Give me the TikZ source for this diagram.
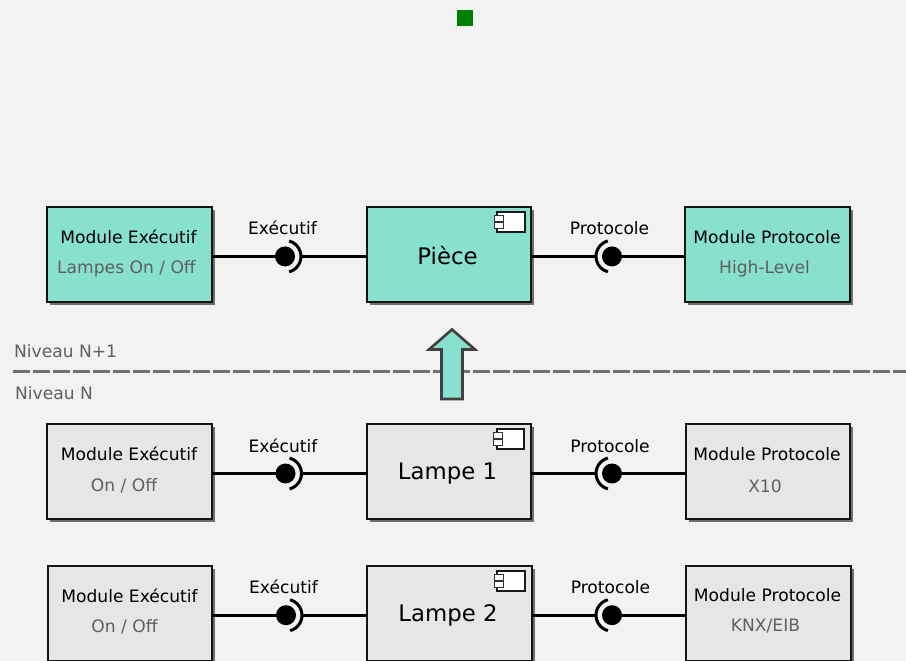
\documentclass[tikz,border=0pt]{standalone}
\usepackage{fontspec}
\setmainfont{DejaVu Sans}
\usetikzlibrary{shadows}
\definecolor{bgc}{HTML}{F2F2F2}
\definecolor{teal}{HTML}{88E0CE}
\definecolor{greyfill}{HTML}{E6E6E6}
\definecolor{subtext}{HTML}{5F5F5F}
\definecolor{dashc}{HTML}{707070}
\definecolor{shadowc}{HTML}{6E6E6E}
\tikzset{
  x=1pt,y=-1pt,
  boxbase/.style={draw=black!92,line width=2pt,minimum width=164.6pt,minimum height=94.6pt,inner sep=0pt,outer sep=0pt,
    drop shadow={shadow xshift=3pt,shadow yshift=-3pt,opacity=1,fill=shadowc}},
  tealbox/.style={boxbase,fill=teal},
  greybox/.style={boxbase,fill=greyfill},
  title/.style={font=\fontsize{17.1}{20}\selectfont,text=black,inner sep=0pt},
  subtitle/.style={font=\fontsize{17.1}{20}\selectfont,text=subtext,inner sep=0pt},
  bigtitle/.style={font=\fontsize{22.8}{26}\selectfont,text=black,inner sep=0pt},
  level/.style={font=\fontsize{17.1}{20}\selectfont,text=subtext,inner sep=0pt,anchor=west},
  link/.style={draw=black,line width=3pt},
  ball/.style={circle,fill=black,draw=none,minimum size=20pt,inner sep=0pt,outer sep=0pt},
  socket/.style={draw=black,line width=3pt},
  iconbody/.style={draw=black!90,fill=white,line width=1.6pt,inner sep=0pt,outer sep=0pt,minimum width=27.5pt,minimum height=19.5pt,
    drop shadow={shadow xshift=1pt,shadow yshift=-1pt,opacity=1,fill=shadowc}},
  icontab/.style={draw=black!80,fill=white,line width=1pt,inner sep=0pt,outer sep=0pt,minimum width=9pt,minimum height=6.5pt},
  uparrow/.style={draw=black!75,line width=2.6pt,fill=teal,line join=miter},
  levelline/.style={draw=dashc,line width=3.2pt,dash pattern=on 17pt off 3pt},
}
% component icon in the top right corner of a box
\newcommand{\CompIcon}[3]{%
  \node[iconbody] (#1body) at (#2+511,#3+15) {};
  \node[icontab] (#1taba) at (#2+498.5,#3+11.5) {};
  \node[icontab] (#1tabb) at (#2+498.5,#3+18.5) {};
}
% ball and socket; socket opens to the left
\newcommand{\LeftConn}[3]{%
  \node[ball] (#1) at (#2,#3) {};
  \coordinate (#1s) at (#2+16,#3);
  \draw[socket] ([shift={(-75:16pt)}]#1.center) arc[start angle=-75,end angle=75,radius=16pt];
}
% ball and socket; socket opens to the right
\newcommand{\RightConn}[3]{%
  \node[ball] (#1) at (#2,#3) {};
  \coordinate (#1s) at (#2-16,#3);
  \draw[socket] ([shift={(105:16pt)}]#1.center) arc[start angle=105,end angle=255,radius=16pt];
}
\begin{document}
\begin{tikzpicture}
\useasboundingbox (0,0) rectangle (906,661);
\fill[bgc] (0,0) rectangle (906,661);
\node[fill={rgb,255:red,0;green,128;blue,0},minimum size=16pt,inner sep=0pt] (mark) at (465,18) {};

\coordinate (dashL) at (12.5,371.6);
\coordinate (dashR) at (906,371.6);
\draw[levelline] (dashL) -- (dashR);
\node[level] (lvlup) at (14,351) {Niveau N+1};
\node[level] (lvldown) at (15,393) {Niveau N};
\filldraw[uparrow] (452,329.5) -- (475,349.5) -- (462.5,349.5) -- (462.5,399) -- (441.5,399) -- (441.5,349.5) -- (429,349.5) -- cycle;

% row 1
\node[tealbox] (a1) at (129.5,254.6) {};
\node[title] (a1t) at (128.5,237) {Module Exécutif};
\node[subtitle] (a1s) at (126.5,269) {Lampes On / Off};
\node[tealbox] (b1) at (448.8,254.6) {};
\node[bigtitle] (b1t) at (447.5,256) {Pièce};
\CompIcon{i1}{0}{207}
\node[tealbox] (c1) at (767.5,254.6) {};
\node[title] (c1t) at (767,237) {Module Protocole};
\node[subtitle] (c1s) at (764.5,269) {High-Level};
\LeftConn{p1}{285}{256.4}
\RightConn{q1}{612}{256.4}
\draw[link] (a1.east|-p1) -- (p1);
\draw[link] (p1s) -- (b1.west|-p1);
\draw[link] (b1.east|-q1) -- (q1s);
\draw[link] (q1) -- (c1.west|-q1);
\node[title] (p1l) at (282.5,228) {Exécutif};
\node[title] (q1l) at (609.5,228) {Protocole};

% row 2
\node[greybox] (a2) at (129.5,471.5) {};
\node[title] (a2t) at (129,454) {Module Exécutif};
\node[subtitle] (a2s) at (124,486) {On / Off};
\node[greybox] (b2) at (448.8,471.5) {};
\node[bigtitle] (b2t) at (447.5,473.5) {Lampe 1};
\CompIcon{i2}{-0.5}{424}
\node[greybox] (c2) at (768,471.5) {};
\node[title] (c2t) at (767,454) {Module Protocole};
\node[subtitle] (c2s) at (765,486) {X10};
\LeftConn{p2}{285.5}{473.5}
\RightConn{q2}{612}{473.5}
\draw[link] (a2.east|-p2) -- (p2);
\draw[link] (p2s) -- (b2.west|-p2);
\draw[link] (b2.east|-q2) -- (q2s);
\draw[link] (q2) -- (c2.west|-q2);
\node[title] (p2l) at (283,446) {Exécutif};
\node[title] (q2l) at (610,446) {Protocole};

% row 3
\node[greybox] (a3) at (130,613.5) {};
\node[title] (a3t) at (129.5,596) {Module Exécutif};
\node[subtitle] (a3s) at (124.5,627) {On / Off};
\node[greybox] (b3) at (449.5,613.5) {};
\node[bigtitle] (b3t) at (448,615) {Lampe 2};
\CompIcon{i3}{0}{566}
\node[greybox] (c3) at (768.5,613.5) {};
\node[title] (c3t) at (767.5,595) {Module Protocole};
\node[subtitle] (c3s) at (765.5,626.5) {KNX/EIB};
\LeftConn{p3}{286}{615.2}
\RightConn{q3}{612}{615.2}
\draw[link] (a3.east|-p3) -- (p3);
\draw[link] (p3s) -- (b3.west|-p3);
\draw[link] (b3.east|-q3) -- (q3s);
\draw[link] (q3) -- (c3.west|-q3);
\node[title] (p3l) at (283.5,587) {Exécutif};
\node[title] (q3l) at (610.5,587) {Protocole};
\end{tikzpicture}
\end{document}
